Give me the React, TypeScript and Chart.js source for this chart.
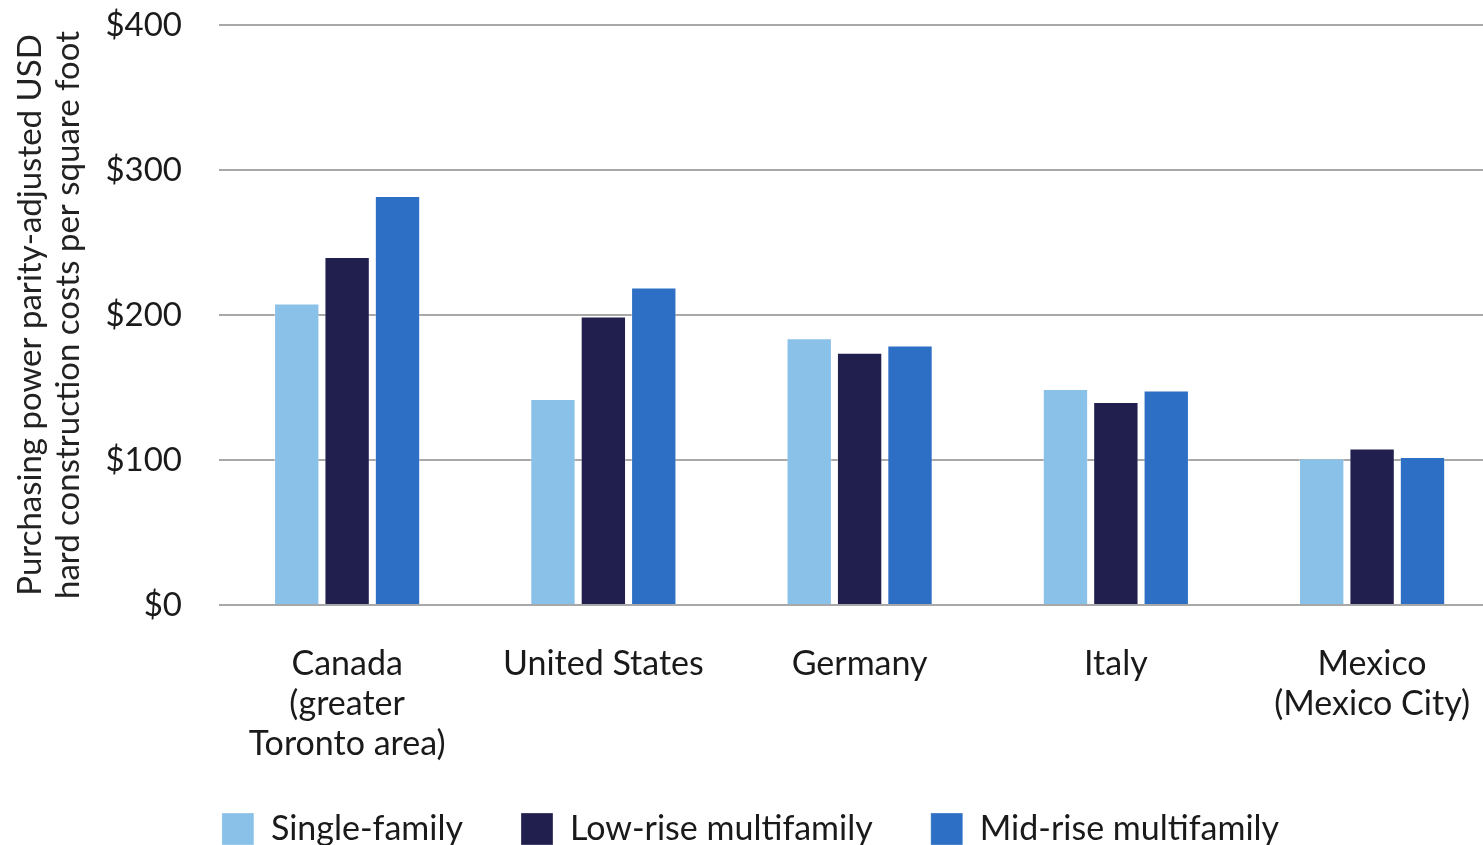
import React, { useEffect, useRef } from "react";
import { Chart, registerables } from "chart.js";

Chart.register(...registerables);

const categories: (string | string[])[] = [
  ["Canada", "(greater", "Toronto area)"],
  "United States",
  "Germany",
  "Italy",
  ["Mexico", "(Mexico City)"],
];
const singleFamily = [208, 142, 184, 149, 101];
const lowRiseMultifamily = [240, 199, 174, 140, 108];
const midRiseMultifamily = [282, 219, 179, 148, 102];
const seriesNames = ["Single-family", "Low-rise multifamily", "Mid-rise multifamily"];
const seriesColors = ["#8AC1E8", "#201F4E", "#2C6FC4"];
const yMin = 0;
const yMax = 400;
const yStep = 100;
const yTitle = ["Purchasing power parity-adjusted USD", "hard construction costs per square foot"];

const W = 1501;
const H = 856;

// lets the multi-line category labels run below the x-axis box instead of being clipped
const labelOverflow = {
  id: "labelOverflow",
  afterLayout(chart: any) {
    const s = chart.scales.x;
    if (s) s.bottom = s.bottom + 40;
  },
};

export default function App() {
  const ref = useRef<HTMLCanvasElement | null>(null);

  useEffect(() => {
    if (!ref.current) return;
    const series = [singleFamily, lowRiseMultifamily, midRiseMultifamily];
    const chart = new Chart(ref.current, {
      type: "bar",
      data: {
        labels: categories as any,
        datasets: series.map((d, i) => ({
          label: seriesNames[i],
          data: d,
          backgroundColor: seriesColors[i],
          borderColor: "rgba(255,255,255,0.3)",
          borderWidth: 1,
          categoryPercentage: 0.59,
          barPercentage: 0.9,
        })),
      },
      plugins: [labelOverflow],
      options: {
        responsive: false,
        animation: false,
        devicePixelRatio: 1,
        layout: { padding: { top: 25, left: 0, right: 0, bottom: 0 } },
        plugins: {
          tooltip: { enabled: false },
          legend: {
            position: "bottom",
            labels: {
              boxWidth: 32,
              boxHeight: 32,
              padding: 58,
              color: "#1a1a1a",
              font: { family: "Lato", size: 34 },
            },
          },
        },
        scales: {
          x: {
            grid: { display: false },
            border: { display: false },
            ticks: {
              color: "#1a1a1a",
              padding: 31,
              maxRotation: 0,
              autoSkip: false,
              font: { family: "Lato", size: 34, lineHeight: 1.18 },
            },
            afterFit: (s: any) => {
              s.height = 149;
            },
          },
          y: {
            min: yMin,
            max: yMax,
            border: { display: false },
            grid: {
              color: "#A8A8A8",
              lineWidth: 2,
              drawTicks: true,
              tickLength: 37,
              tickColor: "rgba(0,0,0,0)",
            },
            ticks: {
              stepSize: yStep,
              padding: 0,
              color: "#1a1a1a",
              font: { family: "Lato", size: 33 },
              callback: (v: any) => "$" + v,
            },
            title: {
              display: true,
              text: yTitle,
              color: "#222",
              padding: { top: 11, bottom: 0 },
              font: { family: "Lato", size: 33, lineHeight: 1.15 },
            },
            afterFit: (s: any) => {
              s.width = 219;
            },
          },
        },
      },
    });
    return () => chart.destroy();
  }, []);

  return (
    <div
      style={{
        position: "fixed",
        left: 0,
        top: 0,
        width: 1483,
        height: 845,
        overflow: "hidden",
        background: "#fff",
      }}
    >
      <canvas ref={ref} width={W} height={H} style={{ width: W, height: H, display: "block" }} />
    </div>
  );
}
